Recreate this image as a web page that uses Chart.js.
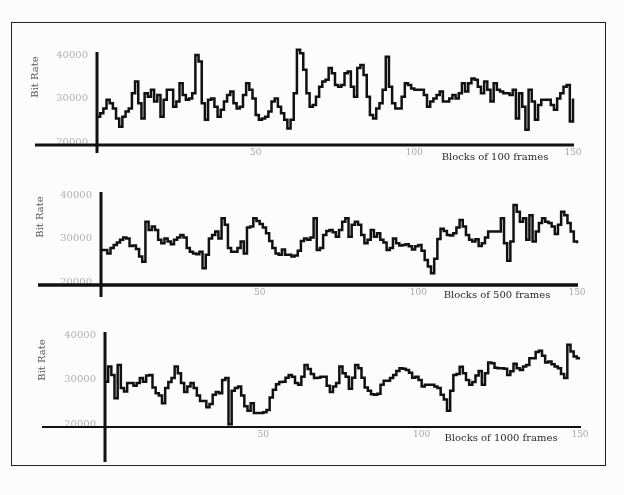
<!DOCTYPE html>
<html><head><meta charset="utf-8">
<script src="https://cdn.jsdelivr.net/npm/chart.js@4/dist/chart.umd.min.js"></script>
<style>
html,body{margin:0;padding:0;background:#fcfcfc;}
#page{position:relative;width:624px;height:495px;overflow:hidden;background:#fcfcfc;}
#frame{position:absolute;left:11px;top:22px;width:593px;height:442px;border:1.5px solid #222;}
canvas{position:absolute;left:0;}
</style></head><body>
<div id="page"><div id="frame"></div>
<canvas id="c1" width="624" height="130" style="top:40px"></canvas>
<canvas id="c2" width="624" height="130" style="top:180px"></canvas>
<canvas id="c3" width="624" height="145" style="top:320px"></canvas>
</div>
<script>
// ---- data ----
const yTickValues = [20000, 30000, 40000];
const xTickValues = [50, 100, 150];
const yAxisTitle = 'Bit Rate';
const blockLabels = ['Blocks of 100 frames', 'Blocks of 500 frames', 'Blocks of 1000 frames'];

const bitRate100 = [
25800,26600,27700,29700,28900,27700,25400,23500,25800,27000,
27700,31200,33900,28900,25400,31200,30400,32000,29300,30800,
25800,29700,32000,32000,28100,29300,33500,30800,29700,30000,
31200,40000,38500,28900,25100,29700,30000,28100,25800,27400,
29300,30800,31600,28900,27700,28100,30800,33500,32000,30000,
26200,25100,25400,25800,27000,29300,30000,28100,26600,25100,
23100,25100,31200,41200,40400,36600,31200,28100,28500,30400,
32700,33900,34300,37000,35800,33100,32700,33100,35800,36200,
32700,30400,37000,37700,35400,30400,26200,25400,27700,28900,
32000,39600,32700,28900,27700,27700,30400,33500,33100,32300,
32000,32000,32000,30800,28100,29300,30000,30800,31600,29300,
29300,30000,30800,30000,31200,33500,31600,33500,34600,34300,
32700,31200,33900,32000,29300,33500,32000,31600,31200,31200,
30800,32000,25400,31200,28100,22800,32000,29300,25100,28500,
29700,29700,29700,28500,27400,30000,31200,32700,33100,24700,
30000];

const bitRate500 = [
27500,27500,26700,27900,28600,29200,29800,30300,30100,28400,
28500,27700,26000,24800,33900,32000,32800,32000,29800,29000,
30100,29400,28800,29800,30300,30900,30300,27900,27100,26700,
26500,27100,23300,26400,30100,30900,31700,30100,34700,33200,
27900,27100,27100,27900,29400,26700,32600,32800,34700,34100,
33400,32600,31300,29500,27900,26700,26400,27600,26400,26400,
26000,26200,27300,29500,30100,29800,30300,34700,27500,27900,
30900,31800,32000,31500,30500,32000,33900,34700,30500,33200,
33900,33200,30900,29000,29800,32000,30500,31300,29800,29200,
27500,27900,30100,29000,28500,28600,28800,28300,27600,28300,
28600,27300,25200,23700,22200,25500,30000,32300,31800,30900,
30800,31300,32600,34300,32800,30900,29800,29400,29900,28400,
29000,30300,31700,31700,31700,31700,34700,29000,25000,29400,
37700,36200,33900,34700,29800,35400,29400,31700,33600,34700,
33900,33600,32800,31100,33200,36200,35400,33600,31700,29400,
29000];

const bitRate1000 = [
29600,33000,31100,25900,33300,28200,27400,29300,29300,28700,
29300,30400,29600,31000,31100,28300,27000,26500,24800,28200,
29500,30400,33000,31500,29300,27300,28500,29300,28200,26500,
25300,25300,23900,24600,26700,27300,27000,30000,30400,20100,
27600,28200,28500,26500,24100,23100,24800,22600,22600,22600,
22800,23300,26100,27800,29000,29500,29600,30500,31100,30700,
29300,28900,30700,33300,32400,31300,30400,30500,30700,30700,
28700,27300,28500,29300,33000,31500,30700,28000,30500,33300,
32600,30500,28300,27600,26800,26700,26900,28900,29800,29800,
30400,31100,32000,32600,32500,32200,31600,30500,30700,30000,
28500,28900,28900,28900,28500,28200,26700,25600,23100,27600,
31100,31300,32900,31500,30000,28900,29500,31000,32000,28900,
31500,33900,33700,32700,32600,32600,32500,31100,31900,33600,
32600,32200,33000,33300,34800,34800,36200,36500,35400,33900,
34100,33500,33000,32600,31300,30400,37800,36300,35200,34800,
34800];

// ---- drawing ----
const SERIF = '"DejaVu Serif", "Liberation Serif", serif';

function decorPlugin(cfg){
  return {
    id: 'decor',
    afterDatasetsDraw(chart){
      const ctx = chart.ctx, xs = chart.scales.x, ys = chart.scales.y;
      const yb = chart.chartArea.bottom;
      const x0 = xs.getPixelForValue(0), x1 = xs.getPixelForValue(150);
      ctx.save();
      ctx.strokeStyle = '#111';
      ctx.lineWidth = cfg.xw;
      ctx.beginPath(); ctx.moveTo(cfg.lineLeft, yb); ctx.lineTo(x1 + 1, yb); ctx.stroke();
      ctx.lineWidth = cfg.yw;
      ctx.beginPath(); ctx.moveTo(x0, ys.getPixelForValue(40000) - 3); ctx.lineTo(x0, yb + cfg.yExt); ctx.stroke();
      ctx.restore();
      ctx.save();
      ctx.fillStyle = '#555';
      ctx.font = '10px ' + SERIF;
      ctx.translate(cfg.brX, cfg.brY);
      ctx.rotate(-Math.PI / 2);
      ctx.textAlign = 'center'; ctx.textBaseline = 'middle';
      ctx.fillText(yAxisTitle, 0, 0);
      ctx.restore();
      ctx.save();
      ctx.fillStyle = '#2a2a2a';
      ctx.font = '10px ' + SERIF;
      ctx.textAlign = 'center'; ctx.textBaseline = 'middle';
      ctx.fillText(cfg.blocks, cfg.blX, yb + cfg.blDy);
      ctx.restore();
    }
  };
}

function makeChart(id, values, cfg){
  const pts = values.map((v, i) => ({x: i, y: v}));
  new Chart(document.getElementById(id), {
    type: 'line',
    data: { datasets: [{ data: pts, borderColor: '#111', borderWidth: 2.5, pointRadius: 0,
      stepped: true, fill: false, clip: false, tension: 0 }] },
    options: {
      responsive: false, animation: false,
      plugins: { legend: {display: false}, tooltip: {enabled: false} },
      layout: { padding: { top: 15, right: cfg.padRight, left: 0, bottom: 0 } },
      scales: {
        x: {
          type: 'linear', min: 0, max: 150,
          afterBuildTicks: s => { s.ticks = xTickValues.map(v => ({value: v})); },
          afterFit: s => { s.height = cfg.xH; },
          grid: { display: false, drawTicks: false },
          border: { display: false },
          ticks: { padding: 2, color: '#a8a8a8', font: { family: SERIF, size: 9 }, maxRotation: 0, autoSkip: false,
            callback: v => String(v) }
        },
        y: {
          min: cfg.yMin, max: 40000,
          afterBuildTicks: s => { s.ticks = yTickValues.map(v => ({value: v})); },
          afterFit: s => { s.width = cfg.yW; },
          grid: { display: false, drawTicks: false },
          border: { display: false },
          ticks: { padding: 9, color: '#b0b0b0', font: { family: SERIF, size: 10 }, callback: v => String(v) }
        }
      }
    },
    plugins: [decorPlugin(cfg)]
  });
}

makeChart('c1', bitRate100, { yW: 97, padRight: 51, xH: 25, yMin: 19300, xw: 3, yw: 3, lineLeft: 35, yExt: 8,
  brX: 35, brY: 37, blocks: blockLabels[0], blX: 495, blDy: 12 });
makeChart('c2', bitRate500, { yW: 101, padRight: 47, xH: 25, yMin: 19500, xw: 3.5, yw: 3, lineLeft: 38, yExt: 12,
  brX: 40, brY: 37, blocks: blockLabels[1], blX: 497, blDy: 10 });
makeChart('c3', bitRate1000, { yW: 105, padRight: 44, xH: 38, yMin: 19500, xw: 2, yw: 3, lineLeft: 42, yExt: 35,
  brX: 42, brY: 40, blocks: blockLabels[2], blX: 501, blDy: 11 });
</script>
</body></html>
